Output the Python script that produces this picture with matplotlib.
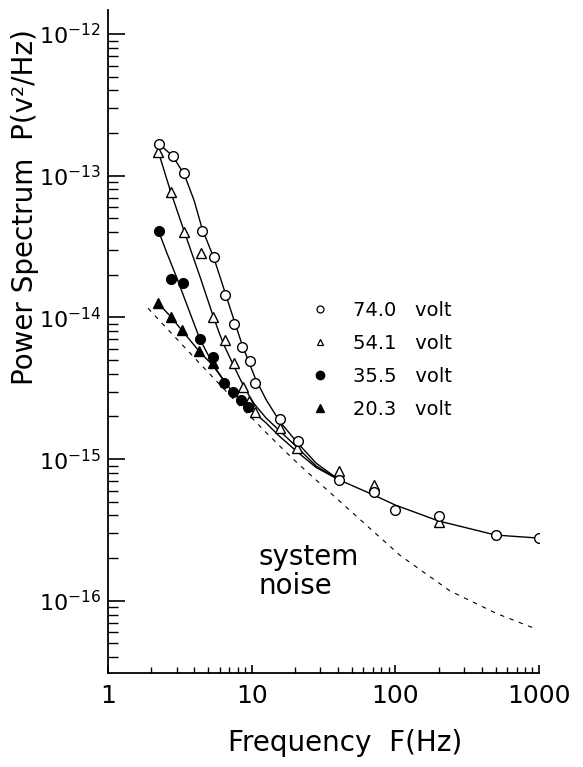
import matplotlib
matplotlib.use("Agg")
import matplotlib.pyplot as plt
from matplotlib.lines import Line2D
from matplotlib.ticker import FixedLocator, LogLocator, NullFormatter

# measured points (frequency in Hz, power in V^2/Hz)
f_74 = [2.26, 2.82, 3.40, 4.51, 5.50, 6.49, 7.57, 8.60, 9.69, 10.6, 15.7, 20.9,
        40.7, 70.7, 100, 200, 500, 1000]
p_74 = [1.68e-13, 1.38e-13, 1.05e-13, 4.09e-14, 2.68e-14, 1.44e-14, 8.97e-15,
        6.21e-15, 4.94e-15, 3.46e-15, 1.91e-15, 1.34e-15, 7.13e-16, 5.89e-16,
        4.38e-16, 3.98e-16, 2.91e-16, 2.79e-16]

f_54 = [2.24, 2.74, 3.40, 4.44, 5.40, 6.52, 7.53, 8.65, 9.58, 10.5, 15.7, 20.6,
        40.7, 70.7, 200]
p_54 = [1.48e-13, 7.64e-14, 4.03e-14, 2.83e-14, 1.01e-14, 6.93e-15, 4.74e-15,
        3.24e-15, 2.58e-15, 2.16e-15, 1.65e-15, 1.19e-15, 8.24e-16, 6.56e-16,
        3.61e-16]

f_35 = [2.25, 2.74, 3.31, 4.37, 5.40, 6.45, 7.45, 8.43, 9.38]
p_35 = [4.07e-14, 1.87e-14, 1.74e-14, 7.0e-15, 5.28e-15, 3.46e-15, 2.99e-15,
        2.61e-15, 2.34e-15]

f_20 = [2.22, 2.74, 3.26, 4.30, 5.35]
p_20 = [1.27e-14, 1.01e-14, 8.14e-15, 5.79e-15, 4.74e-15]

# hand-drawn fitted curves
fit_74_f = [2.26, 2.82, 3.40, 3.98, 4.51, 5.50, 6.49, 7.57, 8.60, 9.69, 10.6, 12.6,
            15.7, 20.9, 28.2, 40.7, 70.7, 100, 200, 500, 1000]
fit_74_p = [1.68e-13, 1.38e-13, 1.02e-13, 6.68e-14, 4.27e-14, 2.57e-14, 1.53e-14,
            9.44e-15, 6.38e-15, 4.68e-15, 3.72e-15, 2.63e-15, 1.84e-15, 1.30e-15,
            9.33e-16, 7.13e-16, 5.58e-16, 4.74e-16, 3.66e-16, 2.91e-16, 2.77e-16]
fit_54_f = [2.24, 2.74, 3.40, 4.4, 5.40, 6.0, 6.52, 7.53, 8.65, 9.58, 10.5, 12.6,
            15.7, 20.6, 28.2, 40.7]
fit_54_p = [1.48e-13, 7.64e-14, 4.03e-14, 1.9e-14, 1.02e-14, 7.59e-15, 6.17e-15,
            4.52e-15, 3.39e-15, 2.82e-15, 2.43e-15, 1.95e-15, 1.58e-15, 1.22e-15,
            8.91e-16, 7.13e-16]
fit_35_f = [2.25, 2.56, 3.01, 3.53, 4.37, 5.01, 5.75, 6.61, 7.59, 8.71, 10.0, 12.6,
            15.5, 20.9, 28.2, 40.7]
fit_35_p = [4.07e-14, 2.88e-14, 1.91e-14, 1.24e-14, 7.0e-15, 5.37e-15, 4.22e-15,
            3.43e-15, 2.88e-15, 2.51e-15, 2.21e-15, 1.80e-15, 1.46e-15, 1.12e-15,
            8.71e-16, 7.13e-16]
fit_20_f = [2.22, 2.74, 3.26, 4.30, 5.35, 6.61]
fit_20_p = [1.27e-14, 1.01e-14, 8.14e-15, 5.79e-15, 4.6e-15, 3.43e-15]

# system noise (dashed)
noise_f = [1.9, 4.4, 8.3, 12.7, 17.1, 21.7, 48, 108, 240, 507, 960]
noise_p = [1.16e-14, 4.68e-15, 2.37e-15, 1.53e-15, 1.135e-15, 9.02e-16, 4.37e-16,
           2.09e-16, 1.175e-16, 8.13e-17, 6.31e-17]

legend_labels = ["74.0   volt", "54.1   volt", "35.5   volt", "20.3   volt"]
ytick_vals = [1e-16, 1e-15, 1e-14, 1e-13, 1e-12]
ytick_labels = [r"$10^{-16}$", r"$10^{-15}$", r"$10^{-14}$", r"$10^{-13}$", r"$10^{-12}$"]
xtick_vals = [1, 10, 100, 1000]
xtick_labels = ["1", "10", "100", "1000"]

plt.rcParams["font.family"] = ["DejaVu Sans"]
plt.rcParams["mathtext.fontset"] = "dejavusans"

fig = plt.figure(figsize=(5.83, 7.67), dpi=100)
ax = fig.add_axes([0.1852, 0.1225, 0.7393, 0.8645])
ax.set_xscale("log")
ax.set_yscale("log")
ax.set_xlim(1, 1000)
ax.set_ylim(3.09e-17, 1.48e-12)

lw = 1.0
ax.plot(fit_74_f, fit_74_p, color="black", lw=lw)
ax.plot(fit_54_f, fit_54_p, color="black", lw=lw)
ax.plot(fit_35_f, fit_35_p, color="black", lw=lw)
ax.plot(fit_20_f, fit_20_p, color="black", lw=lw)
ax.plot(noise_f, noise_p, color="black", lw=0.8, linestyle=(0, (4, 5)))

ms = 7
ax.plot(f_54, p_54, linestyle="none", marker="^", ms=ms, mfc="white", mec="black", mew=1.0)
ax.plot(f_74, p_74, linestyle="none", marker="o", ms=ms, mfc="white", mec="black", mew=1.0)
ax.plot(f_35, p_35, linestyle="none", marker="o", ms=ms, mfc="black", mec="black")
ax.plot(f_20, p_20, linestyle="none", marker="^", ms=ms, mfc="black", mec="black")

# legend with small symbols
handles = [
    Line2D([], [], linestyle="none", marker="o", ms=5, mfc="white", mec="black", mew=0.9),
    Line2D([], [], linestyle="none", marker="^", ms=5, mfc="white", mec="black", mew=0.9),
    Line2D([], [], linestyle="none", marker="o", ms=6, mfc="black", mec="black"),
    Line2D([], [], linestyle="none", marker="^", ms=6, mfc="black", mec="black"),
]
ax.legend(handles, legend_labels, loc="upper left", bbox_to_anchor=(0.4687, 0.561),
          frameon=False, fontsize=14, handlelength=1.0, handletextpad=1.2,
          labelspacing=0.72, borderpad=0, borderaxespad=0)

ax.text(0.350, 0.196, "system\nnoise", transform=ax.transAxes, fontsize=20,
        ha="left", va="top", linespacing=1.05)

# axes styling
for side in ["top", "right"]:
    ax.spines[side].set_visible(False)
for side in ["left", "bottom"]:
    ax.spines[side].set_linewidth(1.3)

ax.yaxis.set_major_locator(FixedLocator(ytick_vals))
ax.set_yticklabels(ytick_labels)
ax.yaxis.set_minor_locator(LogLocator(base=10, subs=range(2, 10), numticks=20))
ax.yaxis.set_minor_formatter(NullFormatter())
ax.xaxis.set_major_locator(FixedLocator(xtick_vals))
ax.set_xticklabels(xtick_labels)
ax.xaxis.set_minor_locator(LogLocator(base=10, subs=range(2, 10), numticks=20))
ax.xaxis.set_minor_formatter(NullFormatter())

ax.tick_params(axis="y", which="major", direction="in", length=12, width=1.2,
               labelsize=16, pad=5)
ax.tick_params(axis="y", which="minor", direction="in", length=7, width=1.0)
ax.tick_params(axis="x", which="major", direction="in", length=6, width=1.2,
               labelsize=18, pad=8)
ax.tick_params(axis="x", which="minor", direction="in", length=4, width=1.0)

ax.set_xlabel("Frequency  F(Hz)", fontsize=20, labelpad=15, x=0.55)
fig.text(25 / 583, 1 - 207 / 767, "Power Spectrum  P(v²/Hz)", rotation=90,
         fontsize=20, ha="center", va="center")

fig.savefig("out.png", dpi=100)
